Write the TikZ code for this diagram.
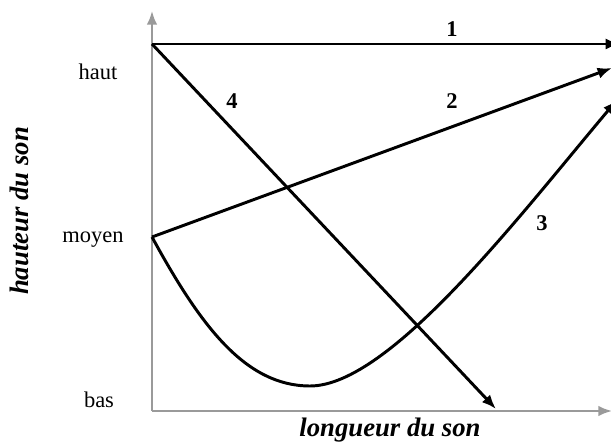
\documentclass[tikz,border=0pt]{standalone}
\usepackage{fontspec}
\setmainfont{Liberation Serif}
\usetikzlibrary{arrows.meta}
\definecolor{AxisGray}{HTML}{9A9A9A}

\begin{document}
\begin{tikzpicture}[x=0.025cm,y=-0.025cm,
  axis/.style={-{Latex[length=3.4mm,width=2.6mm]},line width=1.4pt,draw=AxisGray},
  curve/.style={-{Latex[length=3.6mm,width=2.8mm]},line width=2.1pt,draw=black},
  level/.style={font=\fontsize{16}{18}\selectfont,anchor=center},
  num/.style={font=\fontsize{16}{18}\selectfont\bfseries,anchor=center},
  title/.style={font=\fontsize{19}{21}\selectfont\bfseries\itshape,anchor=center}
]
\useasboundingbox (0,0) rectangle (611,444);
\coordinate (O) at (152,411);
\coordinate (ytop) at (152,11);
\coordinate (xend) at (612,411);
\coordinate (hi) at (152,44);
\coordinate (mid) at (152,237);
\coordinate (low) at (310,386);
\coordinate (end1) at (620,44);
\coordinate (end2) at (612,68);
\coordinate (end3) at (617,100);
\coordinate (end4) at (496,409);
% axes
\draw[axis] (O) -- (ytop);
\draw[axis] (O) -- (xend);
% the four contours
\draw[curve] (hi) -- (end1);
\draw[curve] (mid) -- (end2);
\draw[curve] (mid) .. controls (200,325) and (245,386) .. (low)
  .. controls (390,386) and (520,215) .. (end3);
\draw[curve] (hi) -- (end4);
% levels
\node[level] (haut) at (98,72) {haut};
\node[level] (moyen) at (93,240) {moyen};
\node[level] (bas) at (99,400) {bas};
% numbers
\node[num] (n1) at (452,29) {1};
\node[num] (n2) at (452,101) {2};
\node[num] (n3) at (542,223) {3};
\node[num] (n4) at (232,101) {4};
% axis titles
\node[title] (xlab) at (390,430) {longueur du son};
\node[title,rotate=90] (ylab) at (19,211) {hauteur du son};
\end{tikzpicture}
\end{document}
